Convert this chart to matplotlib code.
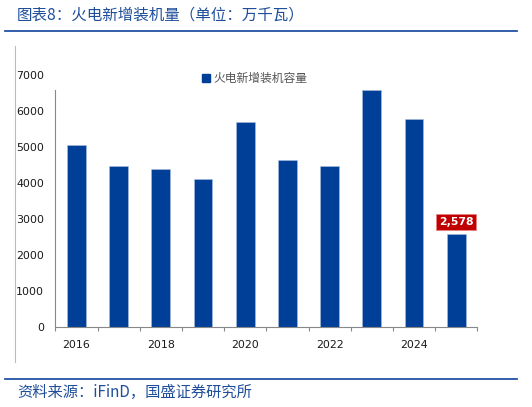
import matplotlib
matplotlib.use("Agg")
import matplotlib.pyplot as plt
from matplotlib.lines import Line2D
from matplotlib.patches import Patch

plt.rcParams['font.family'] = ['Noto Sans CJK SC', 'DejaVu Sans']

years = ['2016', '2017', '2018', '2019', '2020', '2021', '2022', '2023', '2024', '2025']
capacity = [5064, 4472, 4406, 4111, 5694, 4639, 4489, 6583, 5778, 2578]
yticks = [0, 1000, 2000, 3000, 4000, 5000, 6000, 7000]
series_name = '火电新增装机容量'
title = '图表8：火电新增装机量（单位：万千瓦）'
source = '资料来源：iFinD，国盛证券研究所'

W, H = 532, 407
fig = plt.figure(figsize=(W / 100, H / 100), dpi=100)
ax = fig.add_axes([55.3 / W, 1 - 327.3 / H, 422 / W, 252 / H])

bar_color = '#003f98'
x = list(range(len(years)))
ax.bar(x, capacity, width=0.45, color=bar_color, edgecolor='#a9bfe0', linewidth=0.4)

ax.set_xlim(-0.5, len(years) - 0.5)
ax.set_ylim(0, 7000)
ax.set_yticks(yticks)
ax.set_yticklabels([str(v) for v in yticks], family='DejaVu Sans', fontsize=7.9, color='#1a1a1a')
ax.tick_params(axis='y', length=0, pad=8)

ax.set_xticks(x[::2])
ax.set_xticklabels(years[::2], family='DejaVu Sans', fontsize=7.9, color='#1a1a1a')
ax.set_xticks([i - 0.5 for i in range(len(years) + 1)], minor=True)
ax.tick_params(axis='x', which='major', length=0, pad=9)
ax.tick_params(axis='x', which='minor', length=3, direction='out', color='#888888', width=0.8)

for s in ['top', 'right']:
    ax.spines[s].set_visible(False)
ax.spines['left'].set_color('#888888')
ax.spines['bottom'].set_color('#888888')
ax.spines['left'].set_bounds(0, 6600)

# label on the last bar
ax.annotate(f'{capacity[-1]:,}', xy=(x[-1], capacity[-1]), xytext=(0, 9),
            textcoords='offset points', ha='center', va='center',
            family='DejaVu Sans', fontsize=7.8, fontweight='bold', color='white',
            bbox=dict(boxstyle='square,pad=0.25', fc='#c00000', ec='#e88080', lw=0.6))

leg = ax.legend(handles=[Patch(color=bar_color, label=series_name)], loc='upper left',
                bbox_to_anchor=(142 / 422, 1.03), frameon=False, fontsize=8.5,
                handlelength=0.7, handleheight=0.7, handletextpad=0.3, borderaxespad=0)
for t in leg.get_texts():
    t.set_color('#555555')

# title, separator lines, source
fig.text(17 / W, 1 - 15 / H, title, fontsize=11.2, color='#1f4e9a', va='center', ha='left')
fig.add_artist(Line2D([5 / W, 517 / W], [1 - 31 / H, 1 - 31 / H], color='#2452a4', lw=1.3))
fig.add_artist(Line2D([15 / W, 15 / W], [1 - 46 / H, 1 - 362 / H], color='#bbbbbb', lw=0.8))
fig.add_artist(Line2D([5 / W, 517 / W], [1 - 379 / H, 1 - 379 / H], color='#2452a4', lw=1.3))
fig.text(17 / W, 1 - 392 / H, source, fontsize=11, color='#1f4e9a', va='center', ha='left')

fig.savefig('out.png', dpi=100)
